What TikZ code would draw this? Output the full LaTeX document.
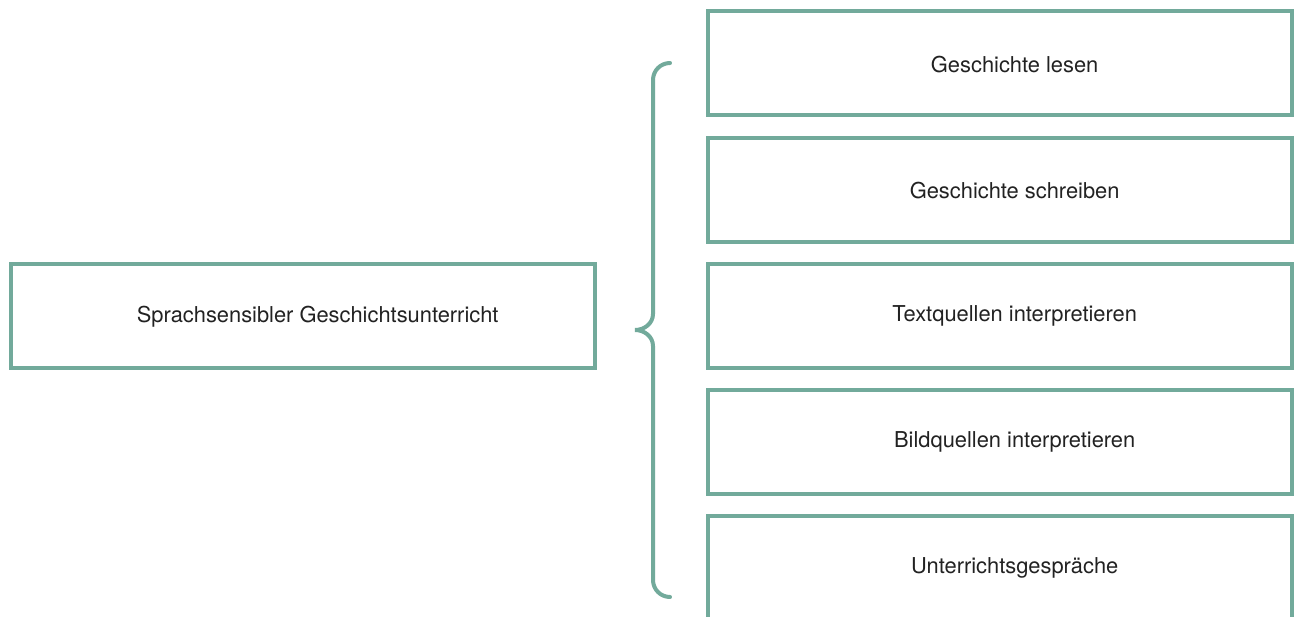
\documentclass[tikz,border=0pt]{standalone}
\usepackage{fontspec}
\setmainfont{TeX Gyre Heros}
\definecolor{framecolor}{RGB}{114,170,155}
\definecolor{textcolor}{RGB}{34,34,34}
\def\boxw{584}
\def\boxh{104}
\def\gap{126}
\tikzset{lbl/.style={text=textcolor,font=\fontsize{16.4}{19}\selectfont}}

\begin{document}
\begin{tikzpicture}[
    x=0.75pt, y=0.75pt,
    every node/.style={lbl},
    box/.style={
        draw=framecolor,
        line width=3pt,
        minimum width=\boxw*0.75pt,
        minimum height=\boxh*0.75pt,
        inner sep=0pt
    },
    brace/.style={draw=framecolor,line width=3pt,line cap=round}
]

\useasboundingbox (0,0) rectangle (1300,-617);
\clip (0,0) rectangle (1300,-617);

\node [box,label={[lbl,xshift=11pt,yshift=-0.5pt]center:Sprachsensibler Geschichtsunterricht}]
    (unterricht) at (303,-316) {};

\node [box,label={[lbl,xshift=11pt,yshift=-0.5pt]center:Geschichte lesen}]
    (lesen) at (1000,-63.5) {};
\node [box,label={[lbl,xshift=11pt,yshift=-0.5pt]center:Geschichte schreiben}]
    (schreiben) at (1000,-63.5-\gap) {};
\node [box,label={[lbl,xshift=11pt,yshift=-0.5pt]center:Textquellen interpretieren}]
    (textq) at (1000,-63.5-2*\gap) {};
\node [box,label={[lbl,xshift=11pt,yshift=-0.5pt]center:Bildquellen interpretieren}]
    (bildq) at (1000,-63.5-3*\gap) {};
\node [box,label={[lbl,xshift=11pt,yshift=-0.5pt]center:Unterrichtsgespr\"ache}]
    (gespraeche) at (1000,-63.5-4*\gap) {};

% curly brace
\path [brace]
    (670,-63) to[out=180,in=90] (653,-80) -- (653,-314)
    to[out=-90,in=0] (635,-330) to[out=0,in=90] (653,-346)
    -- (653,-580) to[out=-90,in=180] (670,-597);

\end{tikzpicture}
\end{document}
